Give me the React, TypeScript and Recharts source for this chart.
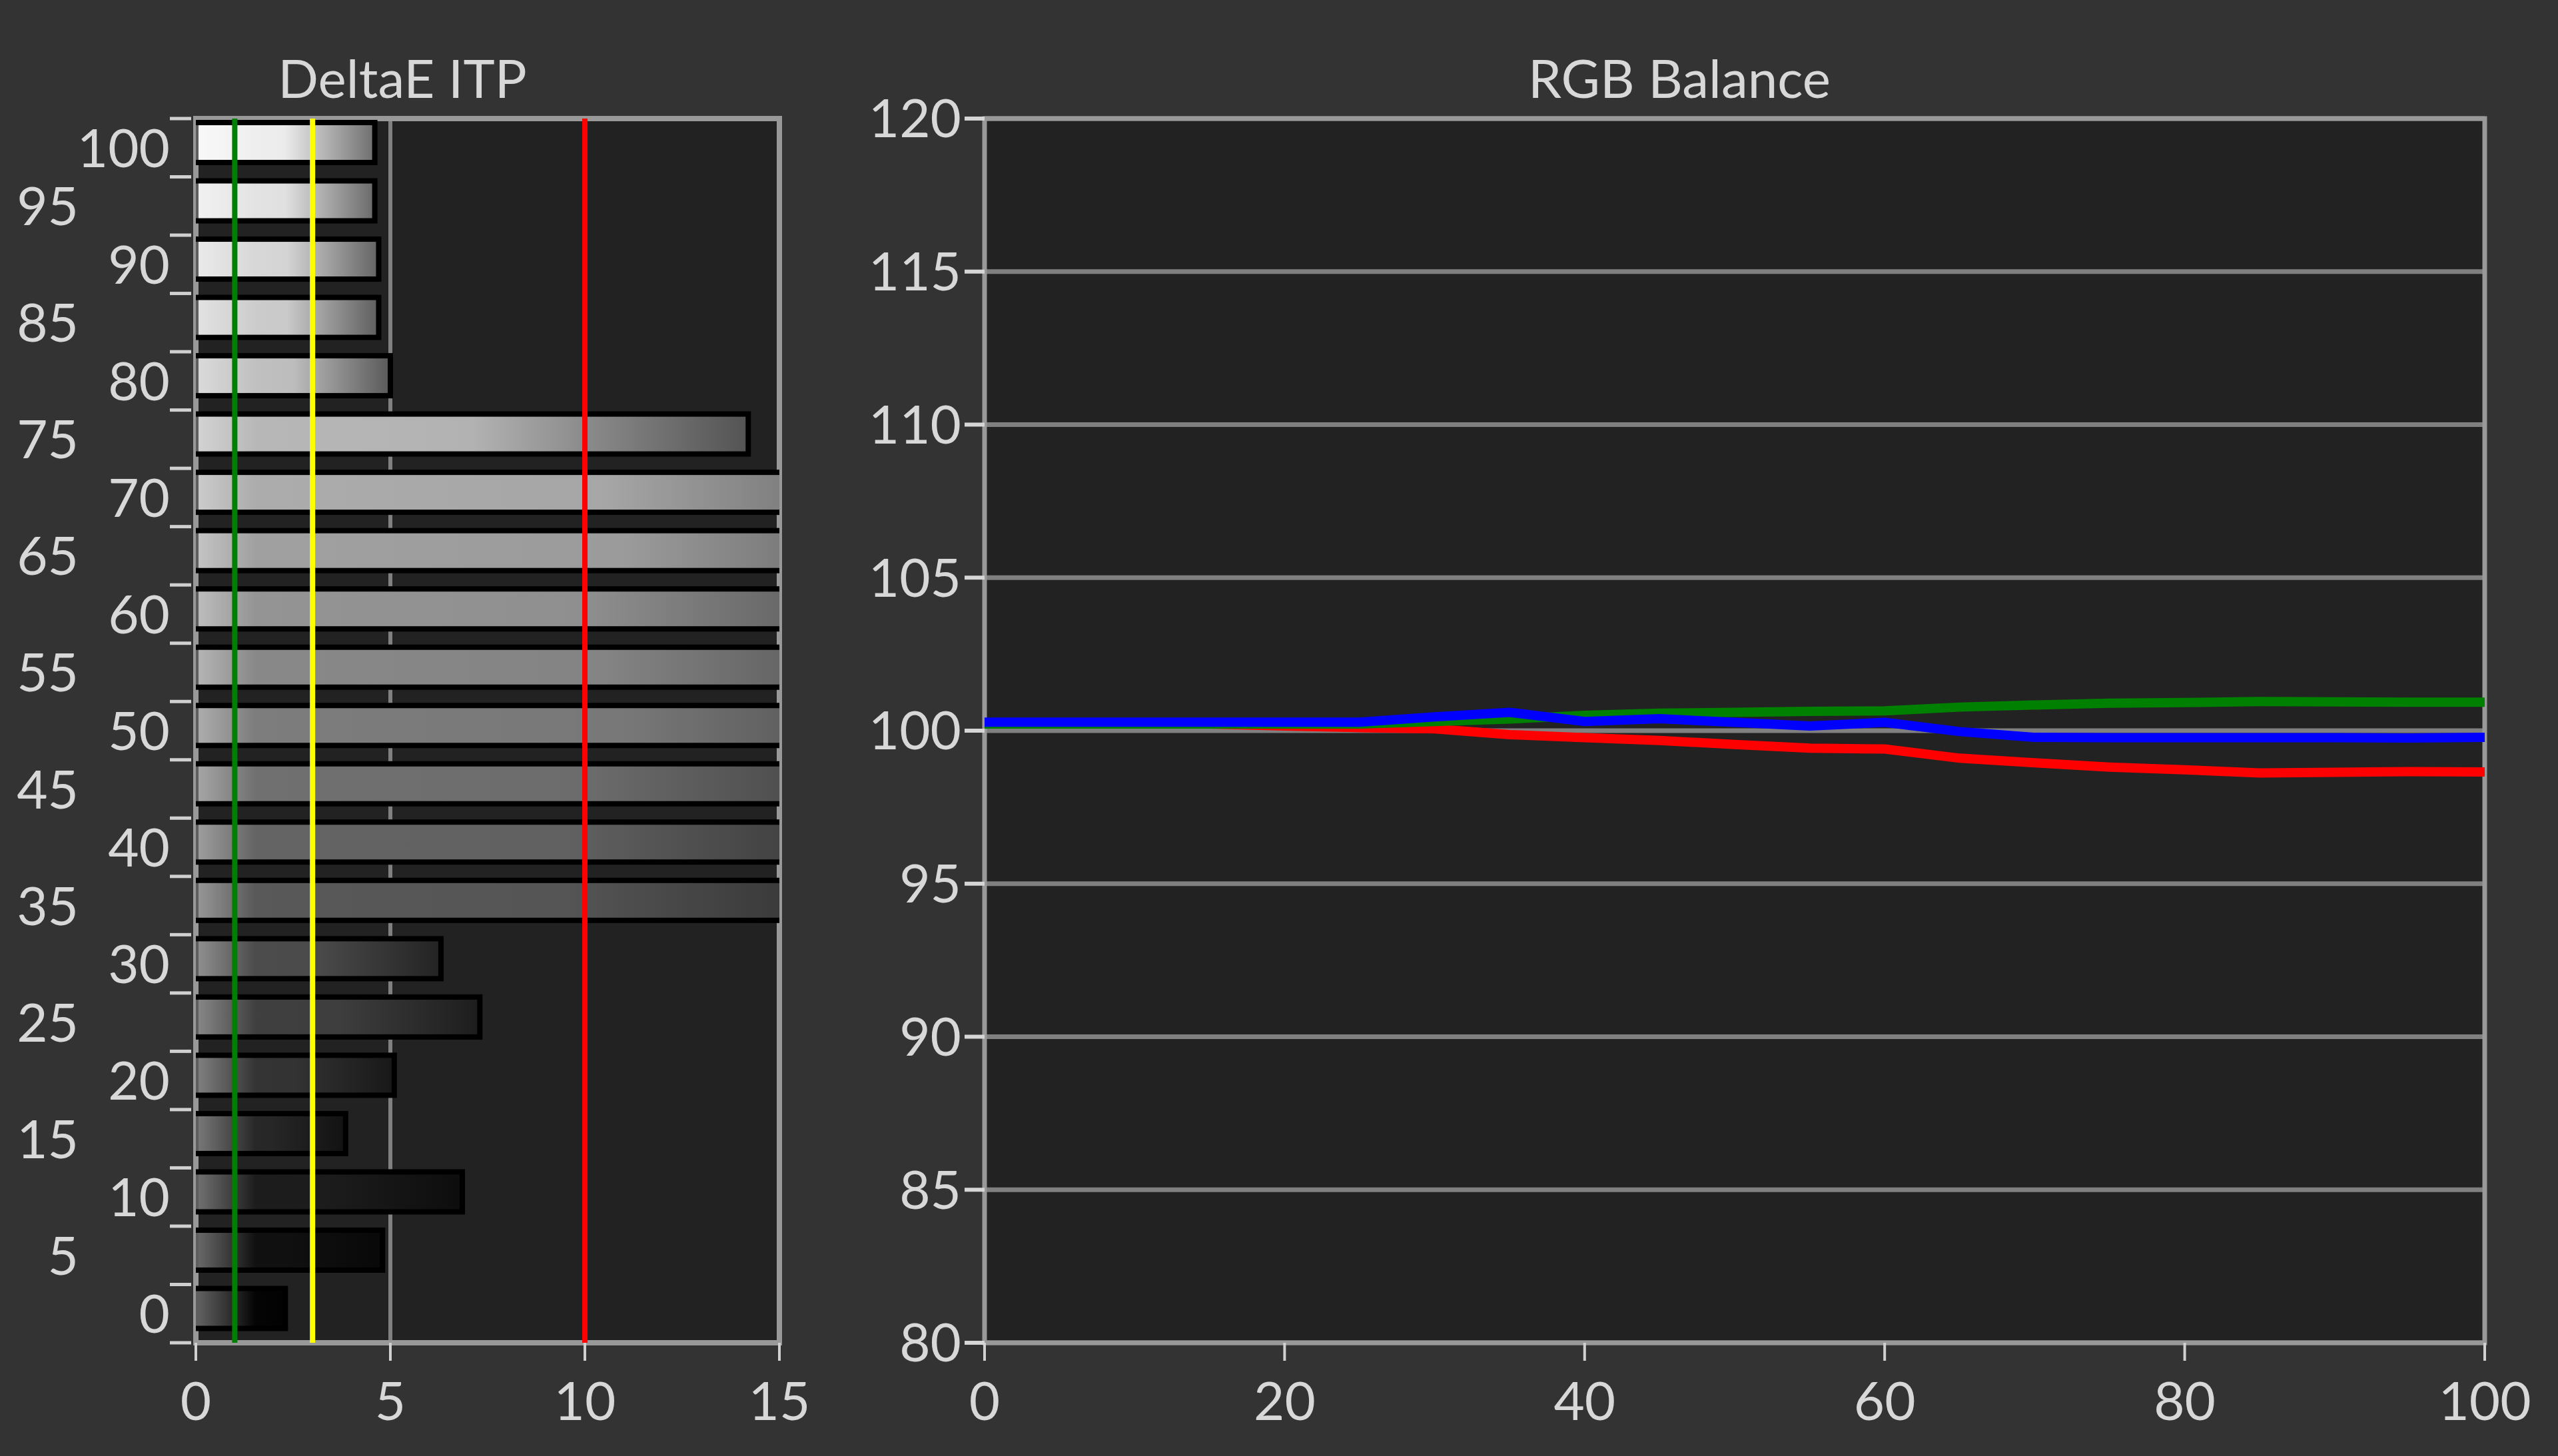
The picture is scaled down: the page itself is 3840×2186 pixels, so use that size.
import React from 'react';
import {
  BarChart,
  Bar,
  LineChart,
  Line,
  XAxis,
  YAxis,
  CartesianGrid,
  ReferenceLine,
  ReferenceArea,
} from 'recharts';

// DeltaE ITP per grey level (bars past 15 run off the chart)
const levels = [0, 5, 10, 15, 20, 25, 30, 35, 40, 45, 50, 55, 60, 65, 70, 75, 80, 85, 90, 95, 100];
const deltaE = [2.3, 4.8, 6.85, 3.85, 5.1, 7.3, 6.3, 19, 19, 20, 22, 21, 20, 22, 21, 14.2, 5.0, 4.7, 4.7, 4.6, 4.6];
const deltaTicks = [0, 5, 10, 15];
const limits = [1, 3, 10];
const limitColors = ['#008000', '#ffff00', '#ff0000'];

// RGB balance per stimulus
const stimulus = [0, 5, 10, 15, 20, 25, 30, 35, 40, 45, 50, 55, 60, 65, 70, 75, 80, 85, 90, 95, 100];
const redBalance = [100.22, 100.22, 100.22, 100.22, 100.15, 100.1, 100.06, 99.87, 99.77, 99.68, 99.55, 99.43, 99.4, 99.1, 98.95, 98.81, 98.72, 98.62, 98.64, 98.66, 98.65];
const greenBalance = [100.22, 100.22, 100.22, 100.22, 100.22, 100.22, 100.3, 100.38, 100.5, 100.57, 100.6, 100.63, 100.65, 100.77, 100.84, 100.9, 100.92, 100.95, 100.94, 100.93, 100.93];
const blueBalance = [100.28, 100.28, 100.28, 100.28, 100.28, 100.28, 100.45, 100.6, 100.3, 100.39, 100.27, 100.15, 100.27, 99.97, 99.78, 99.77, 99.77, 99.77, 99.77, 99.76, 99.78];
const balanceTicks = [80, 85, 90, 95, 100, 105, 110, 115, 120];
const stimulusTicks = [0, 20, 40, 60, 80, 100];

const barRows = levels.map((level, i) => ({ level, deltaE: deltaE[i] }));
const lineRows = stimulus.map((s, i) => ({ s, r: redBalance[i], g: greenBalance[i], b: blueBalance[i] }));

const FONT = 'Lato, "Open Sans", sans-serif';
const TEXT = '#d8d8d8';
const PLOT_TOP = 178;
const PLOT_BOTTOM = 2016;
const BAND = (PLOT_BOTTOM - PLOT_TOP) / levels.length;

const grey = (v: number) => {
  const c = Math.max(0, Math.min(255, Math.round(v)));
  return `rgb(${c},${c},${c})`;
};
const shade = (level: number) => 5 + 2.4 * level;

function LevelTick(props: any) {
  const { x, y, payload } = props;
  const level = payload.value;
  const near = level % 10 === 0;
  return (
    <g>
      <line x1={x - 39} x2={x - 7} y1={y - BAND / 2} y2={y - BAND / 2} stroke="#d0d0d0" strokeWidth={5} />
      {level === 0 && (
        <line x1={x - 39} x2={x - 7} y1={y + BAND / 2} y2={y + BAND / 2} stroke="#d0d0d0" strokeWidth={5} />
      )}
      <text x={near ? x - 39 : x - 176} y={y} dy={29} textAnchor="end" fill={TEXT} fontSize={80} fontFamily={FONT}>
        {level}
      </text>
    </g>
  );
}

function GreyBar(props: any) {
  const { x, y, width, height, payload } = props;
  if (!width || width <= 0) return null;
  const top = y - 8;
  return (
    <g>
      <rect x={x} y={top} width={width} height={height} fill={`url(#lvl${payload.level})`} stroke="#000" strokeWidth={8} />
      <rect x={x} y={top + 4} width={Math.min(90, width - 4)} height={height - 8} fill="url(#glow)" />
    </g>
  );
}

const axisTick = { fill: TEXT, fontSize: 80, fontFamily: FONT };

export default function App() {
  return (
    <div
      style={{
        position: 'absolute',
        left: 0,
        top: 0,
        width: 3840,
        height: 2186,
        background: '#333333',
        overflow: 'hidden',
        fontFamily: FONT,
      }}
    >
      <div style={{ position: 'absolute', left: 404, width: 400, top: 76, lineHeight: '80px', fontSize: 80, color: TEXT, textAlign: 'center' }}>
        DeltaE ITP
      </div>
      <div style={{ position: 'absolute', left: 2221, width: 600, top: 76, lineHeight: '80px', fontSize: 80, color: TEXT, textAlign: 'center' }}>
        RGB Balance
      </div>

      <div style={{ position: 'absolute', left: 0, top: 0 }}>
        <BarChart
          width={1240}
          height={2186}
          data={barRows}
          layout="vertical"
          margin={{ top: PLOT_TOP, right: 70, bottom: 0, left: 0 }}
          barSize={60}
        >
          <defs>
            {levels.map((l) => (
              <linearGradient id={`lvl${l}`} key={l} x1="0" y1="0" x2="1" y2="0">
                <stop offset="0" stopColor={grey(shade(l))} />
                <stop offset="0.5" stopColor={grey(shade(l) * 0.96)} />
                <stop offset="1" stopColor={grey(shade(l) * 0.45)} />
              </linearGradient>
            ))}
            <linearGradient id="glow" x1="0" y1="0" x2="1" y2="0">
              <stop offset="0" stopColor="#ffffff" stopOpacity={0.38} />
              <stop offset="1" stopColor="#ffffff" stopOpacity={0} />
            </linearGradient>
          </defs>
          <CartesianGrid horizontal={false} stroke="#808080" strokeWidth={6} fill="#222222" fillOpacity={1} />
          <XAxis
            type="number"
            domain={[0, 15]}
            ticks={deltaTicks}
            allowDataOverflow
            interval={0}
            axisLine={false}
            tickSize={27}
            tickMargin={32}
            tickLine={{ stroke: '#d0d0d0', strokeWidth: 4 }}
            tick={axisTick}
            height={170}
          />
          <YAxis
            type="category"
            dataKey="level"
            reversed
            width={294}
            axisLine={false}
            tickLine={false}
            tickSize={0}
            tickMargin={0}
            interval={0}
            tick={(p: any) => <LevelTick {...p} />}
          />
          <Bar dataKey="deltaE" isAnimationActive={false} shape={(p: any) => <GreyBar {...p} />} />
          {limits.map((v, i) => (
            <ReferenceLine key={v} x={v} stroke={limitColors[i]} strokeWidth={8} />
          ))}
          <ReferenceArea x1={0} x2={15} fill="none" fillOpacity={0} stroke="#999999" strokeWidth={8} />
        </BarChart>
      </div>

      <div style={{ position: 'absolute', left: 1260, top: 0 }}>
        <LineChart width={2580} height={2186} data={lineRows} margin={{ top: PLOT_TOP, right: 110, bottom: 0, left: 0 }}>
          <CartesianGrid vertical={false} stroke="#808080" strokeWidth={7} fill="#222222" fillOpacity={1} />
          <XAxis
            dataKey="s"
            type="number"
            domain={[0, 100]}
            ticks={stimulusTicks}
            interval={0}
            axisLine={false}
            tickSize={27}
            tickMargin={32}
            tickLine={{ stroke: '#d0d0d0', strokeWidth: 4 }}
            tick={axisTick}
            height={170}
          />
          <YAxis
            type="number"
            domain={[80, 120]}
            ticks={balanceTicks}
            interval={0}
            width={218}
            axisLine={false}
            tickSize={30}
            tickMargin={5}
            tickLine={{ stroke: '#d6d6d6', strokeWidth: 6 }}
            tick={axisTick}
          />
          <Line type="linear" dataKey="r" stroke="#ff0000" strokeWidth={14} dot={false} isAnimationActive={false} />
          <Line type="linear" dataKey="g" stroke="#008000" strokeWidth={14} dot={false} isAnimationActive={false} />
          <Line type="linear" dataKey="b" stroke="#0000ff" strokeWidth={14} dot={false} isAnimationActive={false} />
          <ReferenceArea x1={0} x2={100} y1={80} y2={120} fill="none" fillOpacity={0} stroke="#999999" strokeWidth={7} />
        </LineChart>
      </div>
    </div>
  );
}
